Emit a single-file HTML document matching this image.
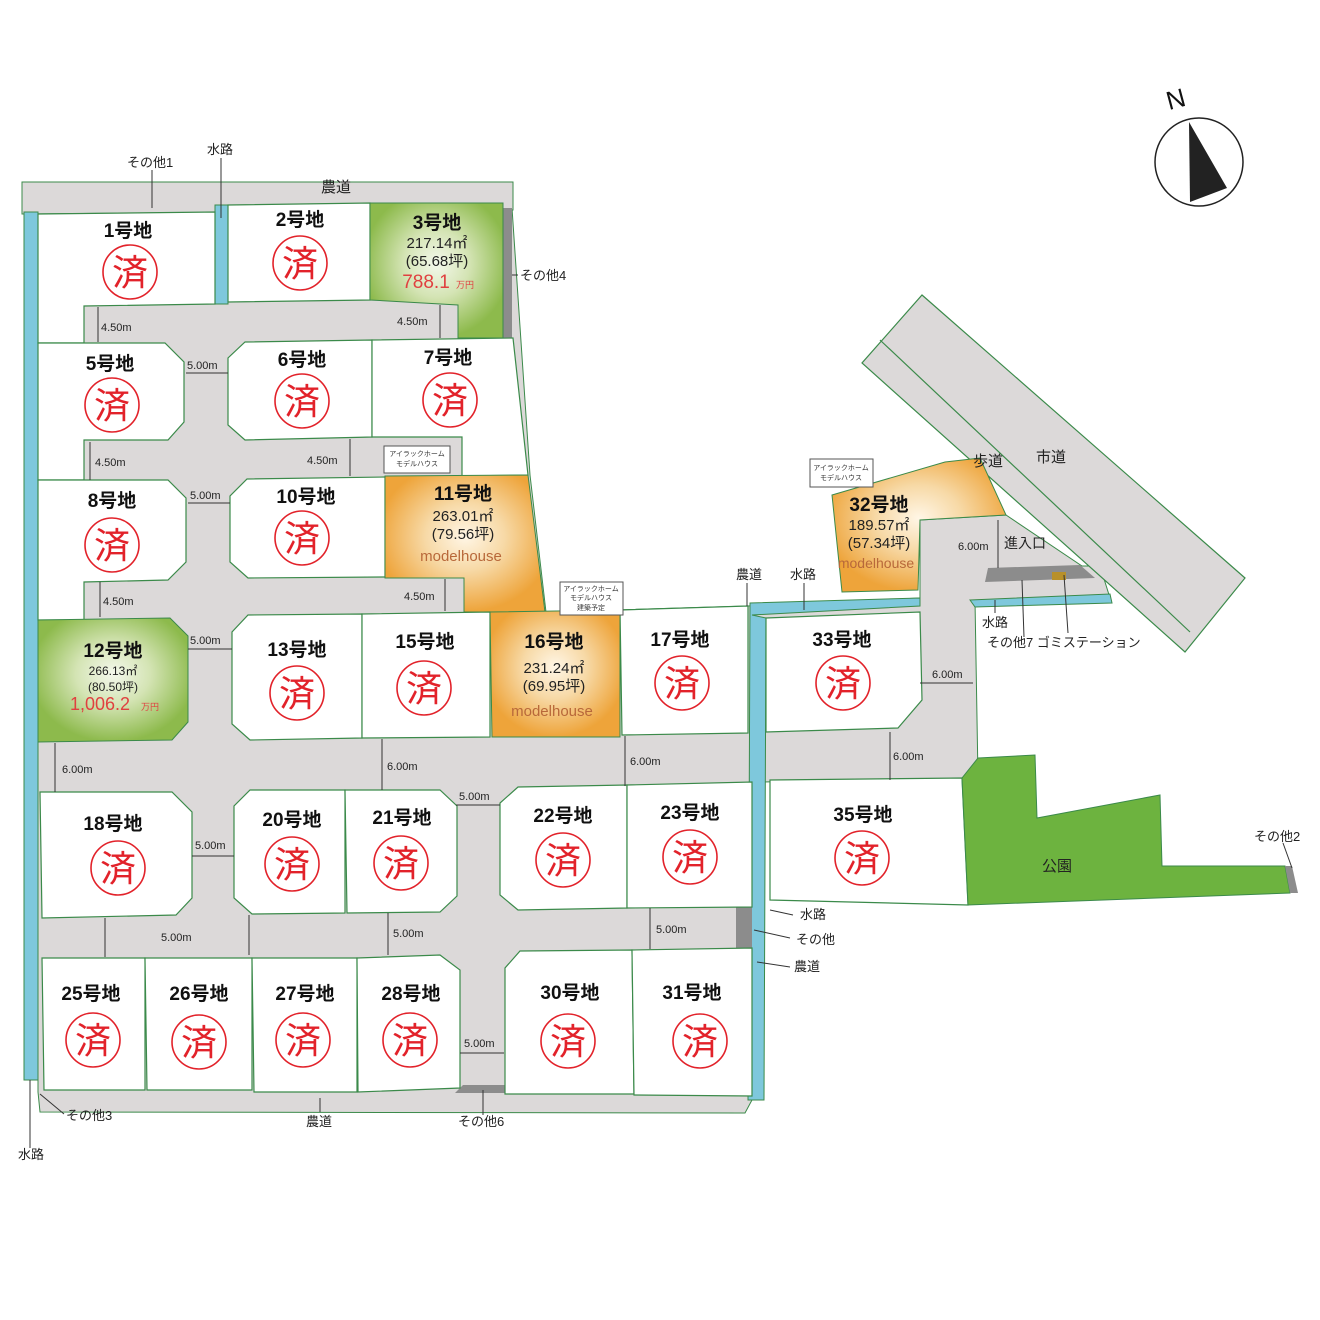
<!DOCTYPE html>
<html><head><meta charset="utf-8"><style>
html,body{margin:0;padding:0;background:#fff}
svg{display:block}
text{font-family:"Liberation Sans","Noto Sans CJK JP",sans-serif}
.l{font-size:19px;font-weight:bold;fill:#111;text-anchor:middle}
.s{font-size:36px;fill:#e2222a;text-anchor:middle}
.d{font-size:11px;fill:#222}
.n{font-size:13px;fill:#222}
.i{font-size:15px;fill:#222;text-anchor:middle}
.lot{fill:#fff;stroke:#3b8a4a;stroke-width:1.2}
.t{stroke:#333;stroke-width:1}
</style></head><body>
<svg width="1320" height="1320" viewBox="0 0 1320 1320" xmlns="http://www.w3.org/2000/svg">
<defs>
<radialGradient id="og" cx="0.5" cy="0.45" r="0.55"><stop offset="0" stop-color="#fff6e6"/><stop offset="0.45" stop-color="#f7d9a6"/><stop offset="1" stop-color="#eea43a"/></radialGradient>
<radialGradient id="gg" cx="0.5" cy="0.45" r="0.55"><stop offset="0" stop-color="#f4f8ec"/><stop offset="0.45" stop-color="#d4e4b4"/><stop offset="1" stop-color="#8dba4c"/></radialGradient>
</defs>
<!-- main gray body -->
<polygon points="38,210 512,208 530,475 546,612 748,606 920,598 920,520 1006,515 1082,566 1100,566 1110,598 975,600 978,778 760,782 752,1100 745,1113 40,1112 38,1092" fill="#dcd9d9" stroke="#3b8a4a"/>
<!-- city road -->
<polygon points="922,295 1245,578 1185,652 862,363" fill="#dcd9d9" stroke="#3b8a4a" stroke-width="1.2"/>
<line x1="880" y1="340" x2="1190" y2="632" stroke="#3b8a4a" stroke-width="1.2"/>
<!-- top road -->
<polygon points="22,182 513,182 513,210 22,214" fill="#dcd9d9" stroke="#3b8a4a"/>
<!-- waters -->
<rect x="24" y="212" width="14" height="868" fill="#7ec8dc" stroke="#3b8a4a"/>
<rect x="215" y="205" width="13" height="99" fill="#7ec8dc" stroke="#3b8a4a"/>
<polygon points="752,615 920,606 920,598 750,603 748,1100 764,1100 766,618" fill="#7ec8dc" stroke="#3b8a4a"/>
<polygon points="970,600 1110,594 1112,603 975,607" fill="#7ec8dc" stroke="#3b8a4a"/>
<rect x="503" y="208" width="9" height="130" fill="#8c8c8c"/>
<rect x="736" y="907" width="16" height="42" fill="#8c8c8c"/>
<polygon points="463,1085 505,1085 510,1093 455,1093" fill="#8c8c8c"/>
<polygon points="988,568 1080,565 1095,578 985,582" fill="#8c8c8c"/>
<rect x="1052" y="572" width="14" height="8" fill="#b8902a"/>
<!-- lots -->
<polygon class="lot" points="38,214 215,212 215,304 84,306 84,343 38,343"/>
<polygon class="lot" points="228,205 370,203 370,300 228,302"/>
<polygon points="370,203 503,203 503,338 458,338 458,305 370,300" fill="url(#gg)" stroke="#3b8a4a"/>
<polygon class="lot" points="38,343 165,343 184,362 184,422 168,440 84,440 84,480 38,480"/>
<polygon class="lot" points="245,342 372,340 372,437 245,440 228,425 228,358"/>
<polygon class="lot" points="372,340 513,338 528,475 462,476 462,437 372,437"/>
<polygon class="lot" points="38,480 168,480 186,498 186,562 168,580 84,582 84,620 38,620"/>
<polygon class="lot" points="247,479 385,477 385,577 248,578 230,562 230,496"/>
<polygon points="385,476 528,475 545,612 464,612 464,578 385,578" fill="url(#og)" stroke="#3b8a4a"/>
<polygon points="38,620 170,618 188,636 188,722 172,740 38,742" fill="url(#gg)" stroke="#3b8a4a"/>
<polygon class="lot" points="248,615 362,614 362,738 250,740 232,724 232,632"/>
<polygon class="lot" points="362,614 490,612 490,737 362,738"/>
<polygon points="490,612 620,610 620,737 492,737" fill="url(#og)" stroke="#3b8a4a"/>
<polygon class="lot" points="620,610 748,606 748,733 622,735"/>
<polygon class="lot" points="766,618 920,612 922,700 898,728 766,732"/>
<polygon points="832,495 945,462 980,458 1006,515 920,520 918,590 842,592" fill="url(#og)" stroke="#3b8a4a"/>
<polygon class="lot" points="40,792 172,792 192,812 192,898 176,915 42,918"/>
<polygon class="lot" points="250,790 345,790 345,913 252,914 234,898 234,806"/>
<polygon class="lot" points="345,790 440,790 457,806 457,896 440,912 347,913"/>
<polygon class="lot" points="518,787 627,785 627,908 518,910 500,895 500,803"/>
<polygon class="lot" points="627,785 752,782 752,907 627,908"/>
<polygon class="lot" points="770,780 962,778 968,905 770,900"/>
<polygon points="978,758 1035,755 1037,818 1160,795 1162,866 1285,866 1290,893 968,905 962,778" fill="#6db33f" stroke="#3b8a4a"/>
<polygon points="1285,866 1292,866 1298,893 1290,893" fill="#8c8c8c"/>
<polygon class="lot" points="42,958 145,958 145,1090 44,1090"/>
<polygon class="lot" points="145,958 252,958 252,1090 147,1090"/>
<polygon class="lot" points="252,958 357,958 357,1092 254,1092"/>
<polygon class="lot" points="357,958 440,955 460,970 460,1088 358,1092"/>
<polygon class="lot" points="520,951 632,950 634,1094 505,1094 505,968"/>
<polygon class="lot" points="632,950 752,948 752,1096 634,1095"/>
<!-- dimension ticks -->
<g class="t">
<line x1="98" y1="307" x2="98" y2="342"/><line x1="440" y1="305" x2="440" y2="338"/>
<line x1="186" y1="373" x2="228" y2="373"/>
<line x1="90" y1="442" x2="90" y2="480"/><line x1="350" y1="439" x2="350" y2="476"/>
<line x1="188" y1="503" x2="230" y2="503"/>
<line x1="100" y1="582" x2="100" y2="617"/><line x1="445" y1="579" x2="445" y2="611"/>
<line x1="188" y1="649" x2="232" y2="649"/>
<line x1="55" y1="743" x2="55" y2="792"/><line x1="382" y1="739" x2="382" y2="790"/><line x1="625" y1="736" x2="625" y2="786"/><line x1="890" y1="732" x2="890" y2="780"/>
<line x1="456" y1="805" x2="500" y2="805"/><line x1="192" y1="856" x2="234" y2="856"/>
<line x1="105" y1="918" x2="105" y2="957"/><line x1="249" y1="915" x2="249" y2="955"/><line x1="388" y1="913" x2="388" y2="955"/><line x1="650" y1="908" x2="650" y2="949"/>
<line x1="460" y1="1053" x2="504" y2="1053"/>
<line x1="920" y1="683" x2="973" y2="683"/><line x1="998" y1="520" x2="998" y2="568"/>
<line x1="152" y1="170" x2="152" y2="208"/><line x1="221" y1="158" x2="221" y2="218"/>
<line x1="512" y1="275" x2="518" y2="275"/>
<line x1="30" y1="1080" x2="30" y2="1148"/><line x1="40" y1="1094" x2="64" y2="1114"/>
<line x1="320" y1="1098" x2="320" y2="1112"/><line x1="483" y1="1090" x2="483" y2="1115"/>
<line x1="770" y1="910" x2="793" y2="915"/><line x1="754" y1="930" x2="790" y2="938"/><line x1="757" y1="962" x2="790" y2="967"/>
<line x1="747" y1="583" x2="747" y2="606"/><line x1="804" y1="583" x2="804" y2="610"/>
<line x1="995" y1="600" x2="995" y2="613"/><line x1="1022" y1="580" x2="1024" y2="637"/><line x1="1064" y1="575" x2="1068" y2="633"/>
<line x1="1283" y1="843" x2="1292" y2="868"/>
</g>
<g class="d">
<text x="101" y="331">4.50m</text><text x="397" y="325">4.50m</text>
<text x="187" y="369">5.00m</text>
<text x="95" y="466">4.50m</text><text x="307" y="464">4.50m</text>
<text x="190" y="499">5.00m</text>
<text x="103" y="605">4.50m</text><text x="404" y="600">4.50m</text>
<text x="190" y="644">5.00m</text>
<text x="62" y="773">6.00m</text><text x="387" y="770">6.00m</text><text x="630" y="765">6.00m</text><text x="893" y="760">6.00m</text>
<text x="459" y="800">5.00m</text><text x="195" y="849">5.00m</text>
<text x="161" y="941">5.00m</text><text x="393" y="937">5.00m</text><text x="656" y="933">5.00m</text>
<text x="464" y="1047">5.00m</text>
<text x="932" y="678">6.00m</text><text x="958" y="550">6.00m</text>
</g>
<g class="n">
<text x="127" y="167">その他1</text><text x="207" y="154">水路</text>
<text x="520" y="280">その他4</text>
<text x="66" y="1120">その他3</text><text x="18" y="1159">水路</text>
<text x="306" y="1126">農道</text><text x="458" y="1126">その他6</text>
<text x="800" y="919">水路</text><text x="796" y="944">その他</text><text x="794" y="971">農道</text>
<text x="736" y="579">農道</text><text x="790" y="579">水路</text>
<text x="982" y="627">水路</text><text x="987" y="647">その他7 ゴミステーション</text>
<text x="1254" y="841">その他2</text>
<text x="1004" y="548" font-size="14">進入口</text>
</g>
<text x="336" y="192" class="i">農道</text>
<text x="988" y="466" class="i" font-size="16">歩道</text>
<text x="1051" y="462" class="i" font-size="16">市道</text>
<text x="1057" y="871" class="i" font-size="18">公園</text>
<!-- lot labels -->
<text class="l" x="128" y="237">1号地</text>
<text class="l" x="300" y="226">2号地</text>
<text class="l" x="437" y="229">3号地</text>
<text class="l" x="110" y="370">5号地</text>
<text class="l" x="302" y="366">6号地</text>
<text class="l" x="448" y="364">7号地</text>
<text class="l" x="112" y="507">8号地</text>
<text class="l" x="306" y="503">10号地</text>
<text class="l" x="463" y="500">11号地</text>
<text class="l" x="113" y="657">12号地</text>
<text class="l" x="297" y="656">13号地</text>
<text class="l" x="425" y="648">15号地</text>
<text class="l" x="554" y="648">16号地</text>
<text class="l" x="680" y="646">17号地</text>
<text class="l" x="842" y="646">33号地</text>
<text class="l" x="879" y="511">32号地</text>
<text class="l" x="113" y="830">18号地</text>
<text class="l" x="292" y="826">20号地</text>
<text class="l" x="402" y="824">21号地</text>
<text class="l" x="563" y="822">22号地</text>
<text class="l" x="690" y="819">23号地</text>
<text class="l" x="863" y="821">35号地</text>
<text class="l" x="91" y="1000">25号地</text>
<text class="l" x="199" y="1000">26号地</text>
<text class="l" x="305" y="1000">27号地</text>
<text class="l" x="411" y="1000">28号地</text>
<text class="l" x="570" y="999">30号地</text>
<text class="l" x="692" y="999">31号地</text>
<!-- info -->
<g class="i">
<text x="437" y="248">217.14㎡</text><text x="437" y="266">(65.68坪)</text>
<text x="426" y="288" fill="#e04040" font-size="19">788.1</text><text x="465" y="288" fill="#e04040" font-size="9">万円</text>
<text x="463" y="521">263.01㎡</text><text x="463" y="539">(79.56坪)</text><text x="461" y="561" fill="#b8683a">modelhouse</text>
<text x="113" y="675" font-size="12">266.13㎡</text><text x="113" y="691" font-size="12">(80.50坪)</text>
<text x="100" y="710" fill="#e04040" font-size="18">1,006.2</text><text x="150" y="710" fill="#e04040" font-size="9">万円</text>
<text x="554" y="673">231.24㎡</text><text x="554" y="691">(69.95坪)</text><text x="552" y="716" fill="#b8683a">modelhouse</text>
<text x="879" y="530">189.57㎡</text><text x="879" y="548">(57.34坪)</text><text x="876" y="568" fill="#b8683a" font-size="14">modelhouse</text>
</g>
<!-- callouts -->
<g font-size="7" text-anchor="middle" fill="#333">
<rect x="384" y="446" width="66" height="27" fill="#fff" stroke="#555"/><text x="417" y="456">アイラックホーム</text><text x="417" y="466">モデルハウス</text>
<rect x="810" y="459" width="63" height="28" fill="#fff" stroke="#555"/><text x="841" y="470">アイラックホーム</text><text x="841" y="480">モデルハウス</text>
<rect x="560" y="582" width="63" height="33" fill="#fff" stroke="#555"/><text x="591" y="591">アイラックホーム</text><text x="591" y="600">モデルハウス</text><text x="591" y="610">建築予定</text>
</g>
<!-- stamps -->
<g fill="none" stroke="#e2222a" stroke-width="1.6">
<circle cx="130" cy="272" r="27"/><circle cx="300" cy="263" r="27"/><circle cx="112" cy="405" r="27"/><circle cx="302" cy="401" r="27"/><circle cx="450" cy="400" r="27"/>
<circle cx="112" cy="545" r="27"/><circle cx="302" cy="538" r="27"/><circle cx="297" cy="693" r="27"/><circle cx="424" cy="688" r="27"/><circle cx="682" cy="683" r="27"/><circle cx="843" cy="683" r="27"/>
<circle cx="118" cy="868" r="27"/><circle cx="292" cy="864" r="27"/><circle cx="401" cy="863" r="27"/><circle cx="563" cy="860" r="27"/><circle cx="690" cy="857" r="27"/><circle cx="862" cy="858" r="27"/>
<circle cx="93" cy="1040" r="27"/><circle cx="199" cy="1042" r="27"/><circle cx="303" cy="1040" r="27"/><circle cx="410" cy="1040" r="27"/><circle cx="568" cy="1041" r="27"/><circle cx="700" cy="1041" r="27"/>
</g>
<g class="s">
<text x="130" y="285">済</text><text x="300" y="276">済</text><text x="112" y="418">済</text><text x="302" y="414">済</text><text x="450" y="413">済</text>
<text x="112" y="558">済</text><text x="302" y="551">済</text><text x="297" y="706">済</text><text x="424" y="701">済</text><text x="682" y="696">済</text><text x="843" y="696">済</text>
<text x="118" y="881">済</text><text x="292" y="877">済</text><text x="401" y="876">済</text><text x="563" y="873">済</text><text x="690" y="870">済</text><text x="862" y="871">済</text>
<text x="93" y="1053">済</text><text x="199" y="1055">済</text><text x="303" y="1053">済</text><text x="410" y="1053">済</text><text x="568" y="1054">済</text><text x="700" y="1054">済</text>
</g>
<!-- compass -->
<circle cx="1199" cy="162" r="44" fill="#fff" stroke="#222" stroke-width="1.5"/>
<polygon points="1189,122 1227,188 1190,202" fill="#222"/>
<text x="1176" y="108" font-size="26" text-anchor="middle" fill="#111" transform="rotate(-15 1176 100)">N</text>
</svg>
</body></html>
